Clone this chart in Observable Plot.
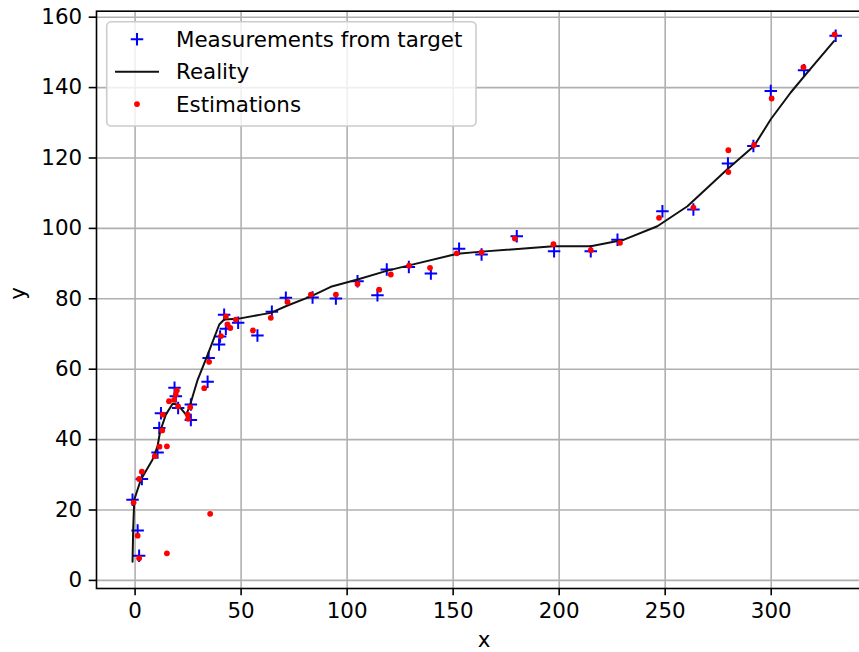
<!DOCTYPE html>
<html>
<head>
<meta charset="utf-8">
<script src="https://cdn.jsdelivr.net/npm/d3@7"></script>
<script src="https://cdn.jsdelivr.net/npm/@observablehq/plot@0.6"></script>
<style>
  html, body { margin: 0; padding: 0; background: #fff; }
  #wrap { position: relative; width: 859px; height: 652px; overflow: hidden; font-family: "DejaVu Sans", sans-serif; }
  #wrap > svg { position: absolute; left: 0; top: 0; max-width: none !important; }
  #legend { pointer-events: none; }
</style>
</head>
<body>
<div id="wrap"></div>
<script>
// Noisy measurements of the target position
const measX = [1.9, 1.2, -1.2, 3.2, 10.6, 11.4, 12.2, 18.6, 19.2, 20.3, 26.3, 26.3, 34.2, 34.7, 39.6, 40.1, 42.0, 42.8, 48.6, 57.7, 64.5, 71.1, 83.7, 94.7, 104.9, 114.3, 118.7, 129.1, 139.5, 152.8, 163.4, 180.0, 197.6, 214.9, 227.5, 248.7, 263.3, 279.6, 291.6, 299.8, 315.5, 330.4];
const measY = [7.0, 14.2, 22.9, 28.8, 36.3, 43.3, 47.5, 54.7, 52.3, 49.0, 50.0, 45.6, 56.4, 63.2, 67.0, 69.3, 75.5, 71.5, 73.2, 69.6, 76.3, 80.3, 80.4, 80.1, 85.0, 81.0, 88.3, 89.0, 87.2, 94.2, 92.6, 97.8, 93.5, 93.5, 96.8, 104.9, 105.4, 118.4, 123.4, 139.0, 144.9, 154.7];

// True trajectory
const realX = [-1.2, -0.9, -0.4, 2.7, 8.2, 10.6, 11.8, 14.5, 17.7, 20.0, 24.0, 25.5, 29.5, 34.2, 39.7, 42.0, 48.3, 59.3, 64.0, 71.9, 82.9, 92.3, 104.9, 119.0, 129.2, 152.0, 163.4, 197.3, 214.9, 230.6, 246.3, 260.5, 279.3, 291.9, 299.8, 309.2, 317.1, 329.6];
const realY = [5.3, 14.5, 22.9, 28.6, 34.3, 38.1, 42.3, 47.1, 50.2, 50.0, 47.1, 49.0, 57.0, 64.1, 72.7, 74.1, 74.3, 75.5, 76.0, 78.1, 80.7, 83.4, 85.5, 88.0, 89.5, 92.8, 93.4, 94.9, 94.9, 96.8, 100.6, 106.3, 116.8, 123.4, 131.0, 138.6, 144.3, 153.2];

// Filter estimates
const estX = [1.9, 1.2, -0.7, 1.9, 3.2, 15.0, 9.3, 11.5, 15.0, 12.8, 13.0, 16.0, 18.4, 19.2, 19.7, 20.3, 24.8, 25.0, 26.0, 32.6, 34.9, 35.4, 40.5, 42.8, 43.6, 44.9, 47.5, 55.6, 64.0, 71.9, 82.9, 94.7, 104.9, 115.1, 120.6, 129.2, 139.1, 151.7, 163.4, 179.1, 197.3, 214.9, 228.7, 247.1, 263.3, 279.8, 279.8, 291.9, 300.2, 315.2, 329.9];
const estY = [6.3, 12.7, 22.1, 28.8, 30.9, 7.7, 35.3, 38.0, 38.1, 42.6, 47.1, 50.9, 51.3, 52.8, 54.0, 49.4, 47.1, 45.9, 49.2, 54.6, 62.1, 18.9, 69.4, 75.0, 72.7, 71.7, 74.1, 71.0, 74.6, 79.1, 81.2, 81.2, 84.2, 82.6, 86.9, 89.4, 88.8, 92.9, 93.2, 97.1, 95.5, 93.8, 95.9, 103.0, 105.9, 122.2, 116.0, 123.7, 136.9, 145.8, 155.1];

const xTicks = [0, 50, 100, 150, 200, 250, 300];
const yTicks = [0, 20, 40, 60, 80, 100, 120, 140, 160];
const legendLabels = ["Measurements from target", "Reality", "Estimations"];

const FONT = 21.4;
const LW = 1.6;

// "+" marker drawn as two strokes
const plusSymbol = {
  draw(ctx, size) {
    const s = Math.sqrt(size / Math.PI);
    ctx.moveTo(-s, 0); ctx.lineTo(s, 0);
    ctx.moveTo(0, -s); ctx.lineTo(0, s);
  }
};

const chart = Plot.plot({
  width: 875,
  height: 652,
  marginLeft: 96,
  marginRight: 4,
  marginTop: 10.7,
  marginBottom: 64,
  style: { fontFamily: "DejaVu Sans", fontSize: FONT + "px", color: "#000", background: "#fff", maxWidth: "none" },
  x: { domain: [-18.2, 347.3] },
  y: { domain: [-2.3, 161.7] },
  marks: [
    Plot.gridX(xTicks, { stroke: "#b0b0b0", strokeOpacity: 1, strokeWidth: LW }),
    Plot.gridY(yTicks, { stroke: "#b0b0b0", strokeOpacity: 1, strokeWidth: LW }),
    Plot.dot(measX, { x: measX, y: measY, symbol: plusSymbol, r: 6.25, stroke: "#0000ff", strokeWidth: 2, fill: "none" }),
    Plot.line(realX, { x: realX, y: realY, stroke: "#111", strokeWidth: 2 }),
    Plot.dot(estX, { x: estX, y: estY, r: 2.9, fill: "#ff0000", stroke: "none" }),
    Plot.frame({ stroke: "#000", strokeWidth: LW }),
    Plot.axisX(xTicks, { tickSize: 7.3, tickPadding: 7, fontSize: FONT, strokeWidth: LW, label: null }),
    Plot.axisY(yTicks, { tickSize: 7.3, tickPadding: 7, fontSize: FONT, strokeWidth: LW, label: null }),
    Plot.text(["x"], { frameAnchor: "bottom", dy: 52, text: d => d, fontSize: FONT, lineAnchor: "middle" }),
    Plot.text(["y"], { frameAnchor: "left", dx: -78, rotate: -90, text: d => d, fontSize: FONT, lineAnchor: "middle" })
  ]
});
chart.style.maxWidth = "none";
chart.style.width = "875px";
chart.style.height = "652px";

const wrap = document.getElementById("wrap");
wrap.appendChild(chart);

// Legend box in the upper left corner of the axes
const lg = d3.create("svg")
  .attr("id", "legend")
  .attr("width", 859)
  .attr("height", 652)
  .attr("font-family", "DejaVu Sans")
  .attr("font-size", FONT);

const box = { x: 106.7, y: 21.7, w: 369.3, h: 104.3 };
lg.append("rect")
  .attr("x", box.x).attr("y", box.y)
  .attr("width", box.w).attr("height", box.h)
  .attr("rx", 4.5)
  .attr("fill", "#fff").attr("fill-opacity", 0.8)
  .attr("stroke", "#cccccc").attr("stroke-width", LW);

const handleX = 137, rowStart = 39.3, rowStep = 32.4, textX = 176;
legendLabels.forEach((label, i) => {
  const cy = rowStart + i * rowStep;
  if (i === 0) {
    lg.append("path")
      .attr("d", `M${handleX - 6.25},${cy}H${handleX + 6.25}M${handleX},${cy - 6.25}V${cy + 6.25}`)
      .attr("stroke", "#0000ff").attr("stroke-width", 2).attr("fill", "none");
  } else if (i === 1) {
    lg.append("line")
      .attr("x1", handleX - 22).attr("x2", handleX + 22)
      .attr("y1", cy).attr("y2", cy)
      .attr("stroke", "#111").attr("stroke-width", 2);
  } else {
    lg.append("circle")
      .attr("cx", handleX).attr("cy", cy).attr("r", 2.9)
      .attr("fill", "#ff0000");
  }
  lg.append("text")
    .attr("x", textX).attr("y", cy)
    .attr("dy", "0.35em")
    .attr("fill", "#000")
    .text(label);
});

wrap.appendChild(lg.node());
</script>
</body>
</html>
